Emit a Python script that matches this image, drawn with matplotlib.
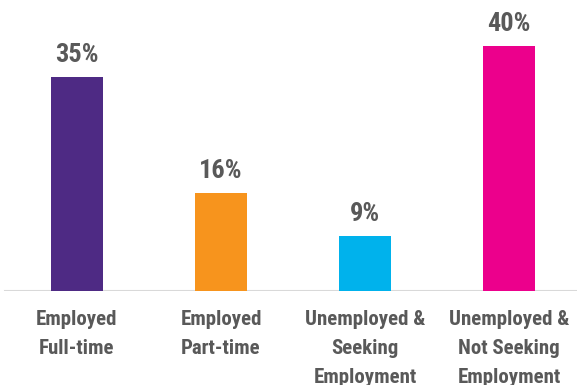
import matplotlib
matplotlib.use("Agg")
import matplotlib.pyplot as plt

# Employment status shares
categories = ["Employed\nFull-time", "Employed\nPart-time",
              "Unemployed &\nSeeking\nEmployment", "Unemployed &\nNot Seeking\nEmployment"]
shares = [35, 16, 9, 40]
colors = ["#4E2A84", "#F7941D", "#00B2EC", "#EC008C"]

plt.rcParams['font.family'] = ['Roboto Condensed', 'Liberation Sans', 'DejaVu Sans']
text_gray = "#595959"

fig = plt.figure(figsize=(5.77, 3.85), dpi=100)
ax = fig.add_axes([0, 1 - 291/385, 1, 291/385])

x = range(len(shares))
ax.bar(x, shares, width=0.36, color=colors, zorder=2)
ax.axhline(0, xmin=5/577, color="#D9D9D9", linewidth=1.5, zorder=1)

for xi, v in zip(x, shares):
    ax.annotate(f"{v}%", (xi, v), xytext=(0, 11), textcoords="offset points",
                ha="center", va="baseline", fontsize=19, fontweight="bold", color=text_gray)

ax.set_xlim(-77/144, (577 - 77)/144)
ax.set_ylim(0, 291/6.12)
ax.set_xticks(list(x))
ax.set_xticklabels(categories, fontsize=15, fontweight="bold", color=text_gray, linespacing=1.65)
ax.tick_params(axis="x", length=0, pad=14)
ax.set_yticks([])
for s in ax.spines.values():
    s.set_visible(False)

fig.savefig("out.png", dpi=100)
